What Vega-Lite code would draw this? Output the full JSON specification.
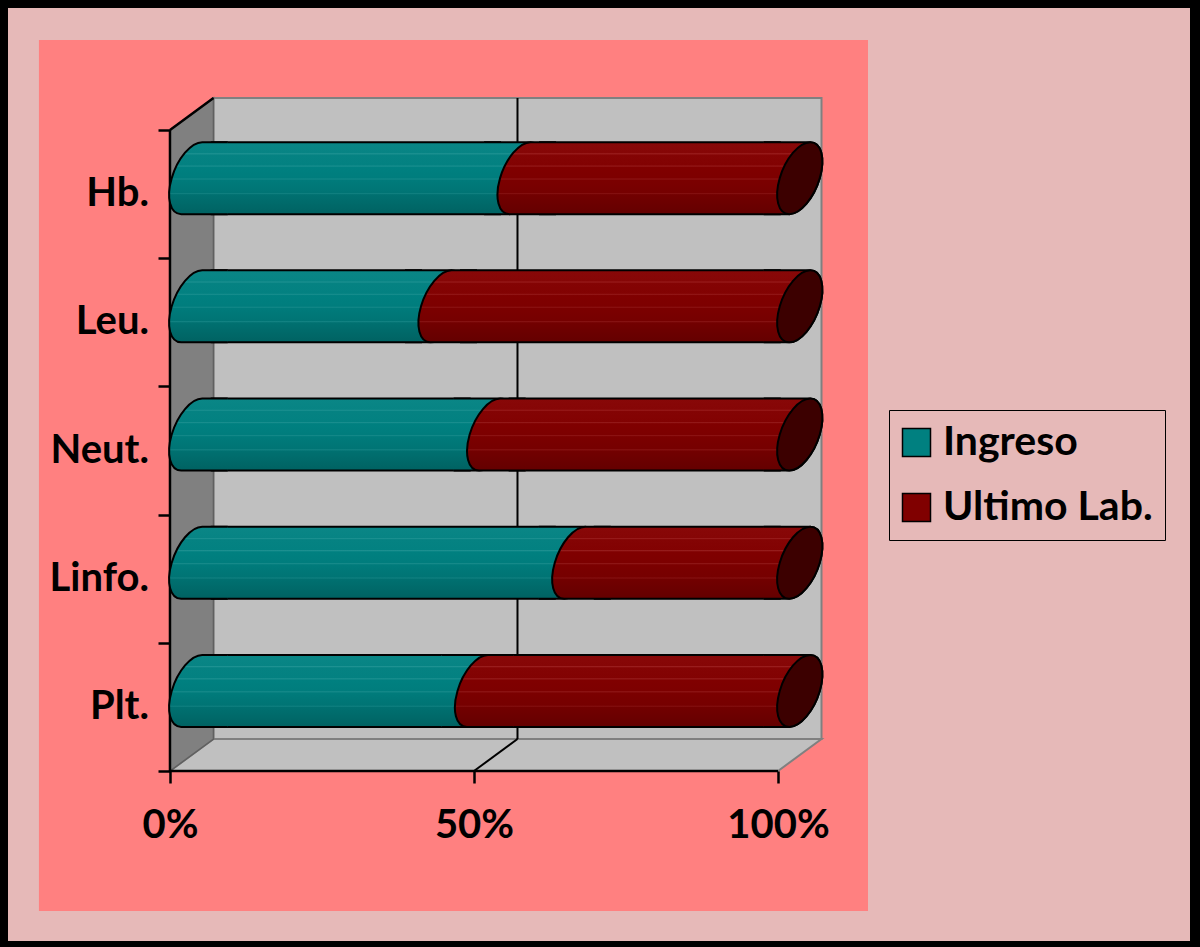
{
  "$schema": "https://vega.github.io/schema/vega-lite/v6.json",
  "width": 1182,
  "height": 933,
  "autosize": {"type": "none"},
  "padding": {"left": 8, "top": 8, "right": 10, "bottom": 6},
  "background": "#000000",
  "config": {
    "view": {"fill": "#E6B9B8", "stroke": null},
    "font": "Lato"
  },
  "datasets": {
    "lab": [
      {"cat": "Hb.", "pos": 4, "serie": "Ingreso", "pct": 54},
      {"cat": "Hb.", "pos": 4, "serie": "Ultimo Lab.", "pct": 46},
      {"cat": "Leu.", "pos": 3, "serie": "Ingreso", "pct": 41},
      {"cat": "Leu.", "pos": 3, "serie": "Ultimo Lab.", "pct": 59},
      {"cat": "Neut.", "pos": 2, "serie": "Ingreso", "pct": 49},
      {"cat": "Neut.", "pos": 2, "serie": "Ultimo Lab.", "pct": 51},
      {"cat": "Linfo.", "pos": 1, "serie": "Ingreso", "pct": 63},
      {"cat": "Linfo.", "pos": 1, "serie": "Ultimo Lab.", "pct": 37},
      {"cat": "Plt.", "pos": 0, "serie": "Ingreso", "pct": 47},
      {"cat": "Plt.", "pos": 0, "serie": "Ultimo Lab.", "pct": 53}
    ]
  },
  "layer": [
    {
      "data": {"values": [{}]},
      "mark": {"type": "rect", "fill": "#FF8080"},
      "encoding": {
        "x": {
          "datum": -21.55, "type": "quantitative",
          "scale": {"domain": [-26.64, 167.76], "nice": false, "zero": false, "padding": 0},
          "axis": {
            "values": [0, 50, 100], "labelExpr": "datum.value + '%'", "zindex": 2,
            "domain": false, "grid": false, "title": null, "offset": -170,
            "tickSize": 12, "tickWidth": 2.5, "tickColor": "#000000",
            "labelFont": "Lato", "labelFontWeight": "bold", "labelFontSize": 40, "labelColor": "#000000",
            "labelPadding": 22, "labelFlush": false, "labelOverlap": false
          }
        },
        "x2": {"datum": 114.8},
        "y": {
          "datum": 5.202, "type": "quantitative",
          "scale": {"domain": [-1.826, 5.452], "nice": false, "zero": false, "padding": 0},
          "axis": {
            "values": [-0.5, 0.5, 1.5, 2.5, 3.5, 4.5], "labels": false, "zindex": 2,
            "domain": false, "grid": false, "title": null, "offset": -162,
            "tickSize": 12, "tickWidth": 2.5, "tickColor": "#000000"
          }
        },
        "y2": {"datum": -1.592}
      }
    },
    {
      "data": {"values": [{}]},
      "mark": {"type": "rect", "fill": "#C0C0C0", "stroke": "#808080", "strokeWidth": 2, "xOffset": 43.5, "x2Offset": 43.5, "yOffset": -32, "y2Offset": -32},
      "encoding": {
        "x": {"datum": 0, "type": "quantitative"},
        "x2": {"datum": 100},
        "y": {"datum": 4.5, "type": "quantitative"},
        "y2": {"datum": -0.5}
      }
    },
    {
      "data": {"values": [{}]},
      "mark": {"type": "point", "filled": true, "opacity": 1, "fill": "#C0C0C0", "stroke": "#808080", "strokeWidth": 2, "size": 424452, "xOffset": 21.75, "yOffset": -16,
        "shape": "M-1,0.0491 L-0.8665,-0.0491 L1,-0.0491 L0.8665,0.0491 Z"},
      "encoding": {
        "x": {"datum": 50, "type": "quantitative"},
        "y": {"datum": -0.5, "type": "quantitative"}
      }
    },
    {
      "data": {"values": [{}]},
      "mark": {"type": "point", "filled": true, "opacity": 1, "fill": "#808080", "stroke": "#606060", "strokeWidth": 1.5, "size": 452929, "xOffset": 21.75, "yOffset": -16,
        "shape": "M-0.0646,-0.9049 L0.0646,-1 L0.0646,0.9049 L-0.0646,1 Z"},
      "encoding": {
        "x": {"datum": 0, "type": "quantitative"},
        "y": {"datum": 2, "type": "quantitative"}
      }
    },
    {
      "data": {"values": [{}]},
      "mark": {"type": "rule", "color": "#000000", "strokeWidth": 2, "xOffset": 43.5, "yOffset": -32, "y2Offset": -32},
      "encoding": {
        "x": {"datum": 50, "type": "quantitative"},
        "y": {"datum": -0.5, "type": "quantitative"},
        "y2": {"datum": 4.5}
      }
    },
    {
      "data": {"values": [{}]},
      "mark": {"type": "rule", "color": "#000000", "strokeWidth": 2, "x2Offset": 43.5, "y2Offset": -32},
      "encoding": {
        "x": {"datum": 50, "type": "quantitative"},
        "x2": {"datum": 50},
        "y": {"datum": -0.5, "type": "quantitative"},
        "y2": {"datum": -0.5}
      }
    },
    {
      "data": {"values": [{}]},
      "mark": {"type": "rule", "color": "#000000", "strokeWidth": 2.5, "x2Offset": 43.5, "y2Offset": -32},
      "encoding": {
        "x": {"datum": 0, "type": "quantitative"},
        "x2": {"datum": 0},
        "y": {"datum": 4.5, "type": "quantitative"},
        "y2": {"datum": 4.5}
      }
    },
    {
      "data": {"values": [{}]},
      "mark": {"type": "rule", "color": "#000000", "strokeWidth": 2.5},
      "encoding": {
        "x": {"datum": 0, "type": "quantitative"},
        "y": {"datum": -0.5, "type": "quantitative"},
        "y2": {"datum": 4.5}
      }
    },
    {
      "data": {"values": [{}]},
      "mark": {"type": "rule", "color": "#000000", "strokeWidth": 2.5},
      "encoding": {
        "x": {"datum": 0, "type": "quantitative"},
        "x2": {"datum": 100},
        "y": {"datum": -0.5, "type": "quantitative"}
      }
    },
    {
      "data": {"name": "lab"},
      "transform": [
        {"stack": "pct", "groupby": ["cat"], "sort": [{"field": "serie"}], "as": ["ini", "fin"]},
        {"filter": "datum.serie === 'Ingreso'"}
      ],
      "mark": {"type": "bar", "orient": "horizontal", "size": 72, "xOffset": 41.75, "x2Offset": 1.75, "yOffset": -16, "stroke": "#000000", "strokeWidth": 2,
        "fill": {"gradient": "linear", "x1": 0, "y1": 0, "x2": 0, "y2": 1, "stops": [
          {"offset": 0, "color": "#0a8686"}, {"offset": 0.15, "color": "#078484"}, {"offset": 0.16, "color": "#1e9292"}, {"offset": 0.18, "color": "#058282"},
          {"offset": 0.32, "color": "#038181"}, {"offset": 0.33, "color": "#1c9090"}, {"offset": 0.35, "color": "#008080"},
          {"offset": 0.5, "color": "#007d7d"}, {"offset": 0.51, "color": "#168a8a"}, {"offset": 0.53, "color": "#007b7b"},
          {"offset": 0.7, "color": "#007474"}, {"offset": 0.71, "color": "#128282"}, {"offset": 0.73, "color": "#007070"},
          {"offset": 1, "color": "#006262"}]}},
      "encoding": {
        "x": {"field": "ini", "type": "quantitative"},
        "x2": {"field": "fin"},
        "y": {"field": "pos", "type": "quantitative"}
      }
    },
    {
      "data": {"name": "lab"},
      "transform": [
        {"stack": "pct", "groupby": ["cat"], "sort": [{"field": "serie"}], "as": ["ini", "fin"]},
        {"filter": "datum.serie === 'Ingreso'"}
      ],
      "mark": {"type": "point", "filled": true, "opacity": 1, "stroke": "#000000", "strokeWidth": 2, "size": 5184, "xOffset": 21.75, "yOffset": -16,
        "fill": {"gradient": "linear", "x1": 0, "y1": 0, "x2": 0, "y2": 1, "stops": [
          {"offset": 0, "color": "#0a8686"}, {"offset": 0.15, "color": "#078484"}, {"offset": 0.16, "color": "#1e9292"}, {"offset": 0.18, "color": "#058282"},
          {"offset": 0.32, "color": "#038181"}, {"offset": 0.33, "color": "#1c9090"}, {"offset": 0.35, "color": "#008080"},
          {"offset": 0.5, "color": "#007d7d"}, {"offset": 0.51, "color": "#168a8a"}, {"offset": 0.53, "color": "#007b7b"},
          {"offset": 0.7, "color": "#007474"}, {"offset": 0.71, "color": "#128282"}, {"offset": 0.73, "color": "#007070"},
          {"offset": 1, "color": "#006262"}]},
        "shape": "M1,1 L-0.292,1 C-0.599,1 -0.717,0.552 -0.556,0 C-0.395,-0.552 -0.015,-1 0.292,-1 L1,-1"},
      "encoding": {
        "x": {"field": "ini", "type": "quantitative"},
        "y": {"field": "pos", "type": "quantitative"}
      }
    },
    {
      "data": {"name": "lab"},
      "transform": [
        {"stack": "pct", "groupby": ["cat"], "sort": [{"field": "serie"}], "as": ["ini", "fin"]},
        {"filter": "datum.serie === 'Ingreso'"}
      ],
      "mark": {"type": "point", "filled": true, "opacity": 1, "stroke": "#000000", "strokeWidth": 2, "size": 5184, "xOffset": 21.75, "yOffset": -16,
        "fill": {"gradient": "linear", "x1": 0, "y1": 0, "x2": 0, "y2": 1, "stops": [
          {"offset": 0, "color": "#0a8686"}, {"offset": 0.15, "color": "#078484"}, {"offset": 0.16, "color": "#1e9292"}, {"offset": 0.18, "color": "#058282"},
          {"offset": 0.32, "color": "#038181"}, {"offset": 0.33, "color": "#1c9090"}, {"offset": 0.35, "color": "#008080"},
          {"offset": 0.5, "color": "#007d7d"}, {"offset": 0.51, "color": "#168a8a"}, {"offset": 0.53, "color": "#007b7b"},
          {"offset": 0.7, "color": "#007474"}, {"offset": 0.71, "color": "#128282"}, {"offset": 0.73, "color": "#007070"},
          {"offset": 1, "color": "#006262"}]},
        "shape": "M-1,-1 L0.292,-1 C0.599,-1 0.717,-0.552 0.556,0 C0.395,0.552 0.015,1 -0.292,1 L-1,1"},
      "encoding": {
        "x": {"field": "fin", "type": "quantitative"},
        "y": {"field": "pos", "type": "quantitative"}
      }
    },
    {
      "data": {"name": "lab"},
      "transform": [
        {"stack": "pct", "groupby": ["cat"], "sort": [{"field": "serie"}], "as": ["ini", "fin"]},
        {"filter": "datum.serie === 'Ultimo Lab.'"}
      ],
      "mark": {"type": "bar", "orient": "horizontal", "size": 72, "xOffset": 41.75, "x2Offset": 1.75, "yOffset": -16, "stroke": "#000000", "strokeWidth": 2,
        "fill": {"gradient": "linear", "x1": 0, "y1": 0, "x2": 0, "y2": 1, "stops": [
          {"offset": 0, "color": "#880808"}, {"offset": 0.15, "color": "#860606"}, {"offset": 0.16, "color": "#9a1e1e"}, {"offset": 0.18, "color": "#840404"},
          {"offset": 0.32, "color": "#820202"}, {"offset": 0.33, "color": "#961c1c"}, {"offset": 0.35, "color": "#800000"},
          {"offset": 0.5, "color": "#7d0000"}, {"offset": 0.51, "color": "#8e1616"}, {"offset": 0.53, "color": "#7b0000"},
          {"offset": 0.7, "color": "#760000"}, {"offset": 0.71, "color": "#861212"}, {"offset": 0.73, "color": "#720000"},
          {"offset": 1, "color": "#640000"}]}},
      "encoding": {
        "x": {"field": "ini", "type": "quantitative"},
        "x2": {"field": "fin"},
        "y": {"field": "pos", "type": "quantitative"}
      }
    },
    {
      "data": {"name": "lab"},
      "transform": [
        {"stack": "pct", "groupby": ["cat"], "sort": [{"field": "serie"}], "as": ["ini", "fin"]},
        {"filter": "datum.serie === 'Ultimo Lab.'"}
      ],
      "mark": {"type": "point", "filled": true, "opacity": 1, "stroke": "#000000", "strokeWidth": 2, "size": 5184, "xOffset": 21.75, "yOffset": -16,
        "fill": {"gradient": "linear", "x1": 0, "y1": 0, "x2": 0, "y2": 1, "stops": [
          {"offset": 0, "color": "#880808"}, {"offset": 0.15, "color": "#860606"}, {"offset": 0.16, "color": "#9a1e1e"}, {"offset": 0.18, "color": "#840404"},
          {"offset": 0.32, "color": "#820202"}, {"offset": 0.33, "color": "#961c1c"}, {"offset": 0.35, "color": "#800000"},
          {"offset": 0.5, "color": "#7d0000"}, {"offset": 0.51, "color": "#8e1616"}, {"offset": 0.53, "color": "#7b0000"},
          {"offset": 0.7, "color": "#760000"}, {"offset": 0.71, "color": "#861212"}, {"offset": 0.73, "color": "#720000"},
          {"offset": 1, "color": "#640000"}]},
        "shape": "M1,1 L-0.292,1 C-0.599,1 -0.717,0.552 -0.556,0 C-0.395,-0.552 -0.015,-1 0.292,-1 L1,-1"},
      "encoding": {
        "x": {"field": "ini", "type": "quantitative"},
        "y": {"field": "pos", "type": "quantitative"}
      }
    },
    {
      "data": {"name": "lab"},
      "transform": [
        {"stack": "pct", "groupby": ["cat"], "sort": [{"field": "serie"}], "as": ["ini", "fin"]},
        {"filter": "datum.serie === 'Ultimo Lab.'"}
      ],
      "mark": {"type": "point", "filled": true, "opacity": 1, "stroke": "#000000", "strokeWidth": 2, "size": 5184, "xOffset": 21.75, "yOffset": -16,
        "fill": {"gradient": "linear", "x1": 0, "y1": 0, "x2": 0, "y2": 1, "stops": [
          {"offset": 0, "color": "#880808"}, {"offset": 0.15, "color": "#860606"}, {"offset": 0.16, "color": "#9a1e1e"}, {"offset": 0.18, "color": "#840404"},
          {"offset": 0.32, "color": "#820202"}, {"offset": 0.33, "color": "#961c1c"}, {"offset": 0.35, "color": "#800000"},
          {"offset": 0.5, "color": "#7d0000"}, {"offset": 0.51, "color": "#8e1616"}, {"offset": 0.53, "color": "#7b0000"},
          {"offset": 0.7, "color": "#760000"}, {"offset": 0.71, "color": "#861212"}, {"offset": 0.73, "color": "#720000"},
          {"offset": 1, "color": "#640000"}]},
        "shape": "M-1,-1 L0.292,-1 C0.599,-1 0.717,-0.552 0.556,0 C0.395,0.552 0.015,1 -0.292,1 L-1,1"},
      "encoding": {
        "x": {"field": "fin", "type": "quantitative"},
        "y": {"field": "pos", "type": "quantitative"}
      }
    },
    {
      "data": {"name": "lab"},
      "transform": [
        {"stack": "pct", "groupby": ["cat"], "sort": [{"field": "serie"}], "as": ["ini", "fin"]},
        {"filter": "datum.serie === 'Ultimo Lab.'"}
      ],
      "mark": {"type": "point", "filled": true, "opacity": 1, "fill": "#3c0000", "stroke": "#000000", "strokeWidth": 2, "size": 5184, "xOffset": 21.75, "yOffset": -16,
        "shape": "M0.556,0 C0.717,-0.552 0.599,-1 0.292,-1 C-0.015,-1 -0.395,-0.552 -0.556,0 C-0.717,0.552 -0.599,1 -0.292,1 C0.015,1 0.395,0.552 0.556,0 Z"},
      "encoding": {
        "x": {"field": "fin", "type": "quantitative"},
        "y": {"field": "pos", "type": "quantitative"}
      }
    },
    {
      "data": {"name": "lab"},
      "transform": [
        {"stack": "pct", "groupby": ["cat"], "sort": [{"field": "serie"}], "as": ["ini", "fin"]}
      ],
      "mark": {"type": "point", "filled": true, "opacity": 0, "size": 1},
      "encoding": {
        "x": {"field": "fin", "type": "quantitative"},
        "y": {"field": "pos", "type": "quantitative"},
        "color": {
          "field": "serie", "type": "nominal",
          "scale": {"domain": ["Ingreso", "Ultimo Lab."], "range": ["#008080", "#800000"]},
          "legend": {
            "orient": "none", "legendX": 881, "legendY": 402, "title": null,
            "symbolType": "square", "symbolSize": 784, "symbolStrokeColor": "#000000", "symbolStrokeWidth": 1.5, "symbolOpacity": 1,
            "symbolOffset": -5,
            "labelFont": "Lato", "labelFontWeight": "bold", "labelFontSize": 41, "labelColor": "#000000",
            "labelOffset": 6, "rowPadding": 23, "padding": 12, "labelLimit": 400,
            "strokeColor": "#000000", "fillColor": "#E6B9B8"
          }
        }
      }
    },
    {
      "data": {"name": "lab"},
      "transform": [{"filter": "datum.serie === 'Ingreso'"}],
      "mark": {"type": "text", "align": "right", "baseline": "middle", "dx": -21, "font": "Lato", "fontWeight": "bold", "fontSize": 40, "fill": "#000000"},
      "encoding": {
        "x": {"datum": 0, "type": "quantitative"},
        "y": {"field": "pos", "type": "quantitative"},
        "text": {"field": "cat"}
      }
    }
  ]
}
